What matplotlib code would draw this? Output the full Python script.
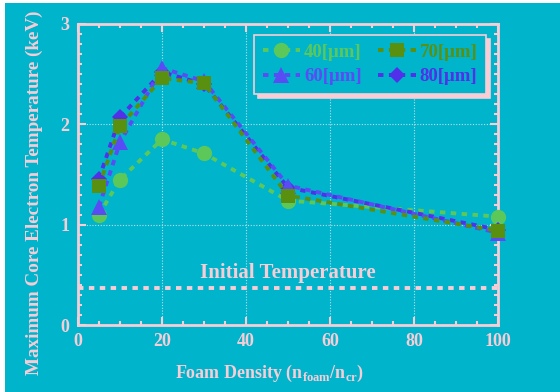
import numpy as np
import matplotlib
import matplotlib.pyplot as plt
from matplotlib.patches import Rectangle
from matplotlib.ticker import MultipleLocator

matplotlib.use('Agg')

# --- data ---
density = [5, 10, 20, 30, 50, 100]
t_40um = [1.10, 1.45, 1.85, 1.71, 1.24, 1.08]
t_60um = [1.18, 1.82, 2.56, 2.43, 1.39, 0.92]
t_70um = [1.39, 1.98, 2.46, 2.41, 1.29, 0.94]
t_80um = [1.46, 2.07, 2.52, 2.40, 1.37, 0.95]
labels = ['40[\u03bcm]', '60[\u03bcm]', '70[\u03bcm]', '80[\u03bcm]']
t_initial = 0.37

BG = '#00b4cc'
PINK = '#f7cdd6'

plt.rcParams['font.family'] = ['Liberation Serif', 'DejaVu Serif']
plt.rcParams['font.weight'] = 'bold'
plt.rcParams['axes.labelweight'] = 'bold'
plt.rcParams['mathtext.fontset'] = 'custom'
plt.rcParams['mathtext.rm'] = 'Liberation Serif:bold'

fig = plt.figure(figsize=(5.6, 3.92), dpi=100)
fig.patch.set_facecolor('white')
fig.patches.append(Rectangle((5 / 560, 0), 1, 1 - 3 / 392, transform=fig.transFigure,
                             facecolor=BG, edgecolor='none', zorder=-10))
ax = fig.add_axes([78 / 560, 67 / 392, 420 / 560, 301 / 392])
ax.set_facecolor(BG)

ls = (0, (1.4, 1.4))
# (values, colour, marker, size, zorder) -- 70um drawn on top as in the reference
series = [
    (t_40um, '#5cc85a', 'o', 11, 3),
    (t_60um, '#5a4cf5', '^', 11, 5),
    (t_70um, '#5a9010', 's', 9.5, 6),
    (t_80um, '#5030e8', 'D', 8.5, 4),
]
handles = []
for (vals, color, mk, ms, z), lab in zip(series, labels):
    h, = ax.plot(density, vals, color=color, lw=2.8, linestyle=ls,
                 dash_capstyle='butt', marker=mk, markersize=ms,
                 markeredgewidth=0, label=lab, clip_on=False, zorder=z)
    handles.append(h)

ax.axhline(t_initial, color=PINK, lw=2.8, linestyle=ls, dash_capstyle='butt')
ax.text(50, t_initial + 0.15, 'Initial Temperature', color=PINK, fontsize=15,
        ha='center', va='center')

ax.set_xlim(0, 100)
ax.set_ylim(0, 3)
ax.xaxis.set_major_locator(MultipleLocator(20))
ax.xaxis.set_minor_locator(MultipleLocator(5))
ax.yaxis.set_major_locator(MultipleLocator(1))
ax.yaxis.set_minor_locator(MultipleLocator(0.1))
ax.grid(True, which='major', color='#b8e0e8', lw=0.8, linestyle=(0, (1, 1.5)))
ax.tick_params(which='both', direction='in', top=True, right=True,
               colors=PINK, labelsize=13, width=1.5)
ax.tick_params(which='major', length=6, pad=6)
ax.tick_params(which='minor', length=3)
for s in ax.spines.values():
    s.set_color(PINK)
    s.set_linewidth(2)

ax.set_xlabel('Foam Density (n$_{\\mathrm{foam}}$/n$_{\\mathrm{cr}}$)',
              color=PINK, fontsize=13)
ax.xaxis.set_label_coords(0.457, -0.125)
ax.set_ylabel('Maximum Core Electron Temperature (keV)', color=PINK,
              fontsize=13.8)
ax.yaxis.set_label_coords(-0.083, 0.4385)

leg = ax.legend(handles=handles, ncol=2, loc='upper right',
                bbox_to_anchor=(0.98, 0.975),
                fontsize=13.5, labelcolor='linecolor', frameon=True, fancybox=False,
                facecolor=BG, edgecolor=PINK, framealpha=1,
                shadow={'color': PINK, 'alpha': 1, 'ox': 3, 'oy': -3},
                handlelength=2.0, columnspacing=0.9, borderpad=0.45,
                labelspacing=0.4, handletextpad=0.2, borderaxespad=0.2)
leg.get_frame().set_linewidth(1.2)

fig.savefig('out.png', dpi=100, facecolor=fig.get_facecolor())
